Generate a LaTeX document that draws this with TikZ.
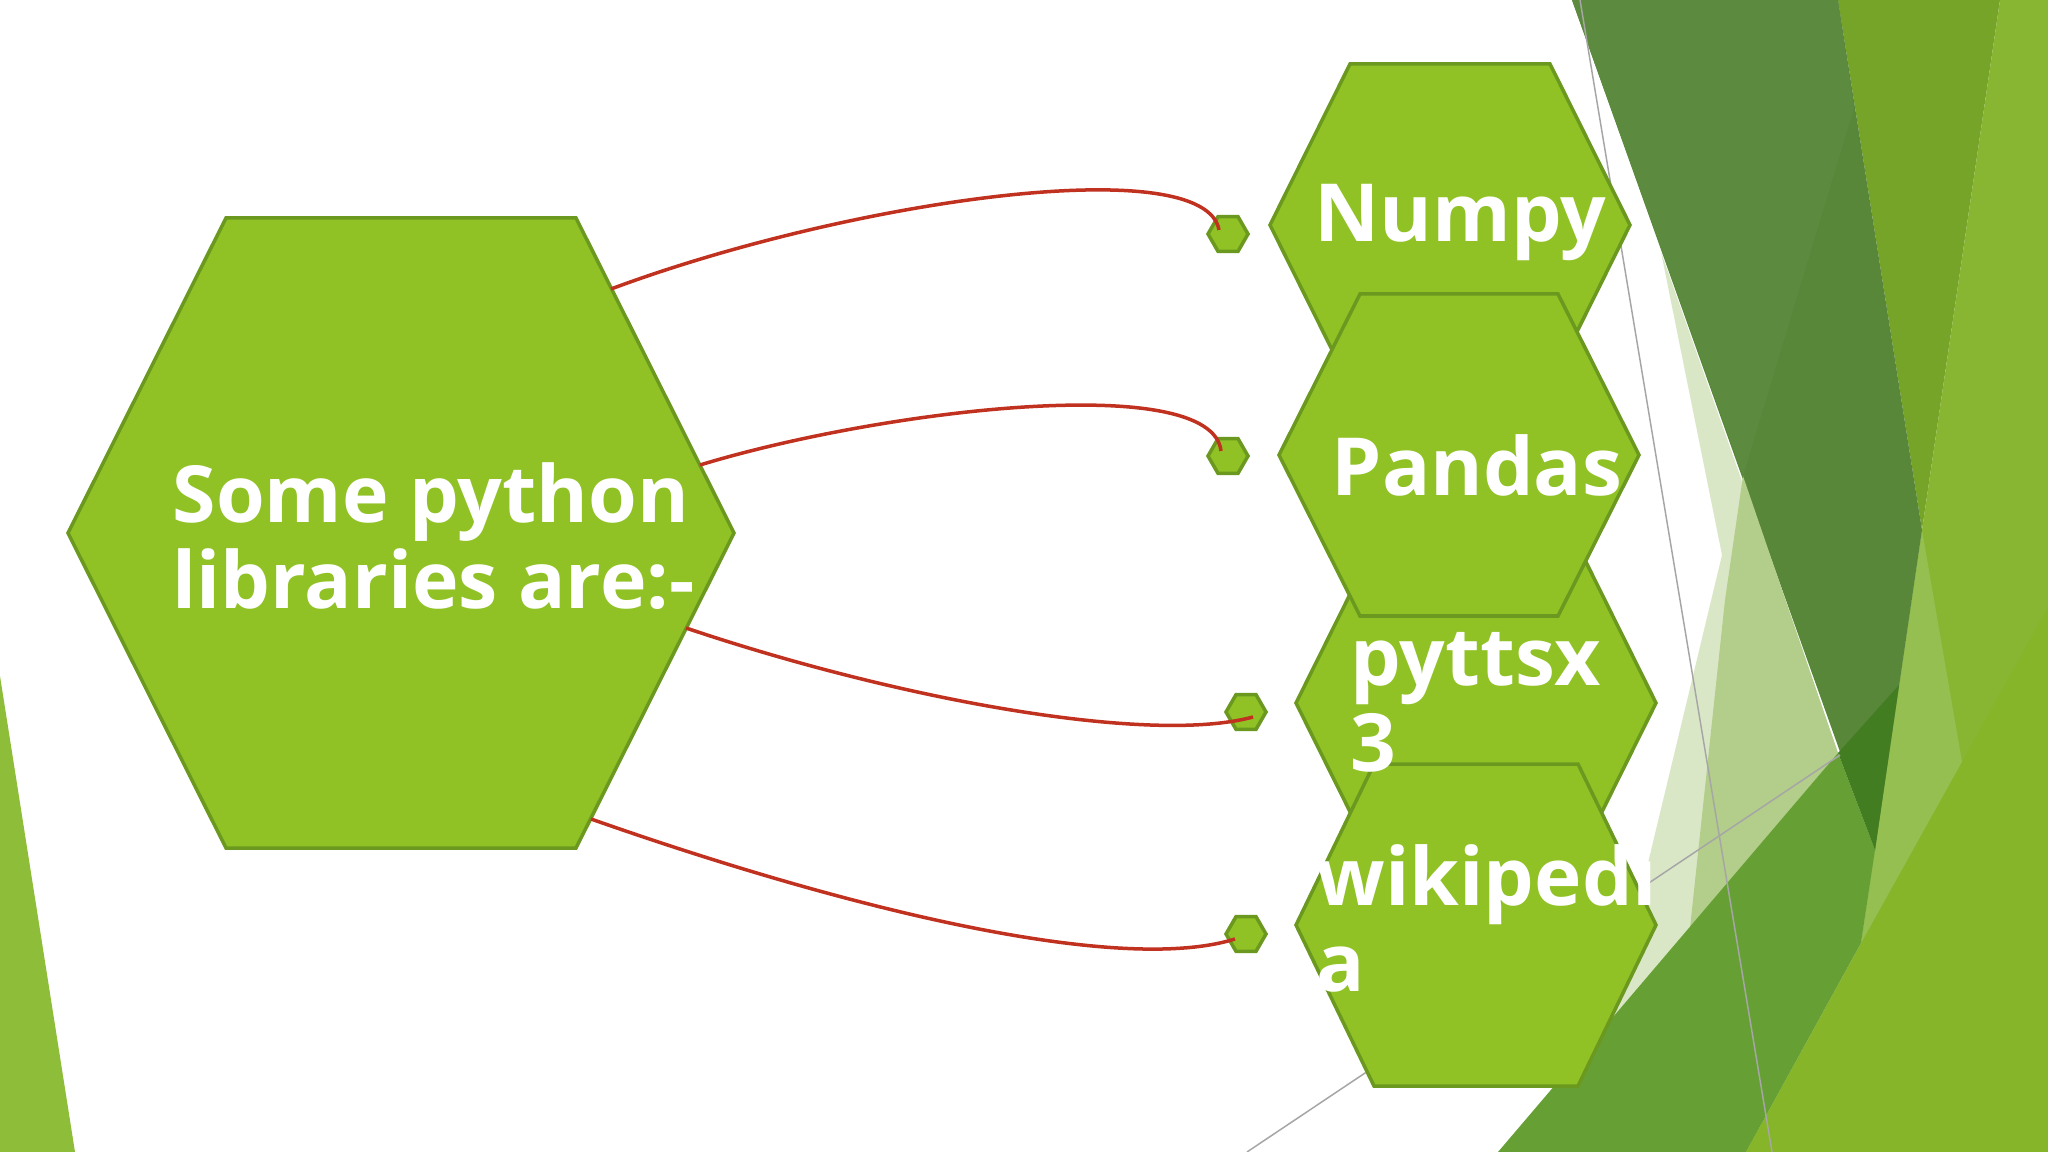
\documentclass[tikz,border=0pt]{standalone}
\usepackage{fontspec}
\setmainfont{Open Sans}
\usepackage{tikz}
\usetikzlibrary{shapes.geometric}
\definecolor{hexgreen}{HTML}{90C226}
\definecolor{hexedge}{HTML}{6B981F}
\definecolor{linkred}{HTML}{C0311F}
\definecolor{facetdark}{HTML}{58873A}
\definecolor{facetdarkhi}{HTML}{5C8B3F}
\definecolor{facetmid}{HTML}{75A428}
\definecolor{facetlight}{HTML}{88B632}
\definecolor{facetbright}{HTML}{86B52A}
\definecolor{facetpale}{HTML}{95BF50}
\definecolor{facetwash}{HTML}{DAE7C7}
\definecolor{facetwashb}{HTML}{B3CD8A}
\definecolor{facetgrass}{HTML}{66A035}
\definecolor{facetdeep}{HTML}{437D22}
\definecolor{facetsliver}{HTML}{8EBD3A}

% hexagon: name, cx, cy, half width, half top width, half height
\newcommand{\hexa}[6]{%
  \filldraw[hexbox] (#2-#5,#3-#6) -- (#2+#5,#3-#6) -- (#2+#4,#3)
    -- (#2+#5,#3+#6) -- (#2-#5,#3+#6) -- (#2-#4,#3) -- cycle;
  \coordinate (#1) at (#2,#3);}

\begin{document}
\begin{tikzpicture}[x=0.01cm,y=-0.01cm,
    hexbox/.style={fill=hexgreen,draw=hexedge,line width=0.035cm,line join=miter},
    knob/.style={regular polygon,regular polygon sides=6,
      minimum size=0.40cm,inner sep=0pt,fill=hexgreen,draw=hexedge,line width=0.035cm},
    link/.style={draw=linkred,line width=0.035cm},
    facetline/.style={draw=black!35,line width=0.015cm},
    libtext/.style={text=white,inner sep=0pt,anchor=base west,align=left,
      font=\bfseries\fontsize{22.8}{24.2}\selectfont}]
  \useasboundingbox (0,0) rectangle (2048,1152);
  \fill[white] (0,0) rectangle (2048,1152);

  % Facet background, left sliver
  \fill[facetsliver] (0,676) -- (75,1152) -- (0,1152) -- cycle;
  % Facet background, right side
  \fill[facetmid] (1838,0) -- (2000,0) -- (1922,530) -- cycle;
  \fill[facetlight] (2000,0) -- (2048,0) -- (2048,1152) -- (1746,1152) -- (1861,943) -- (1922,530) -- cycle;
  \fill[facetpale] (1922,530) -- (1962,762) -- (1861,943) -- cycle;
  \fill[facetdark] (1572,0) -- (1838,0) -- (1922,530) -- (1875,850) -- cycle;
  \fill[facetdarkhi] (1572,0) -- (1838,0) -- (1854,108) -- (1743,476) -- cycle;
  \fill[facetwash] (1661,252) -- (1722,555) -- (1610,1021) -- (1838,753) -- cycle;
  \fill[facetwashb] (1743,476) -- (1838,753) -- (1690,928) -- (1725,600) -- cycle;
  \fill[facetgrass] (1498,1152) -- (1838,753) -- (1875,850) -- (1861,943) -- (1746,1152) -- cycle;
  \fill[facetdeep] (1838,753) -- (1899,685) -- (1875,850) -- cycle;
  \fill[facetbright] (1746,1152) -- (2048,607) -- (2048,1152) -- cycle;
  % thin lines
  \draw[facetline] (1580,0) -- (1772,1152);
  \draw[facetline] (1247,1152) -- (1840,755);

  % Main hexagon
  \hexa{libs}{401}{533}{333}{175}{315}
  \coordinate (l1) at (611,289);
  \coordinate (l2) at (700,465);
  \coordinate (l3) at (686,628);
  \coordinate (l4) at (591,819);

  % small hexagons
  \node[knob] (k1) at (1228,234) {};
  \node[knob] (k2) at (1228,456) {};
  \node[knob] (k3) at (1246,712) {};
  \node[knob] (k4) at (1246,934) {};

  % curved links
  \draw[link] (l1) .. controls (850,200) and (1205,150) .. ([shift={(-9,-4)}]k1.center);
  \draw[link] (l2) .. controls (880,410) and (1212,370) .. ([shift={(-7,-5)}]k2.center);
  \draw[link] (l3) .. controls (900,700) and (1150,745) .. ([shift={(7,5)}]k3.center);
  \draw[link] (l4) .. controls (850,910) and (1120,975) .. ([shift={(-11,5)}]k4.center);

  % library hexagons
  \hexa{numpy}{1450}{225}{180}{100}{161}
  \hexa{pyttsx}{1476}{703}{180}{100}{161}
  \hexa{pandas}{1459}{455}{180}{99}{161}
  \hexa{wiki}{1476}{925}{180}{102}{161}

  % Texts (base = last line)
  \node[libtext,font=\bfseries\fontsize{22.4}{24.2}\selectfont] (libsTxt) at (172,608) {Some python\\libraries are:-};
  \node[libtext] (numpyTxt) at (1314,242) {Numpy};
  \node[libtext] (pandasTxt) at (1331,496) {Pandas};
  \node[libtext] (pyttsxTxt) at (1350,771) {pyttsx\\3};
  \node[libtext] (wikiTxt) at (1316,991) {wikipedi\\a};
\end{tikzpicture}
\end{document}
